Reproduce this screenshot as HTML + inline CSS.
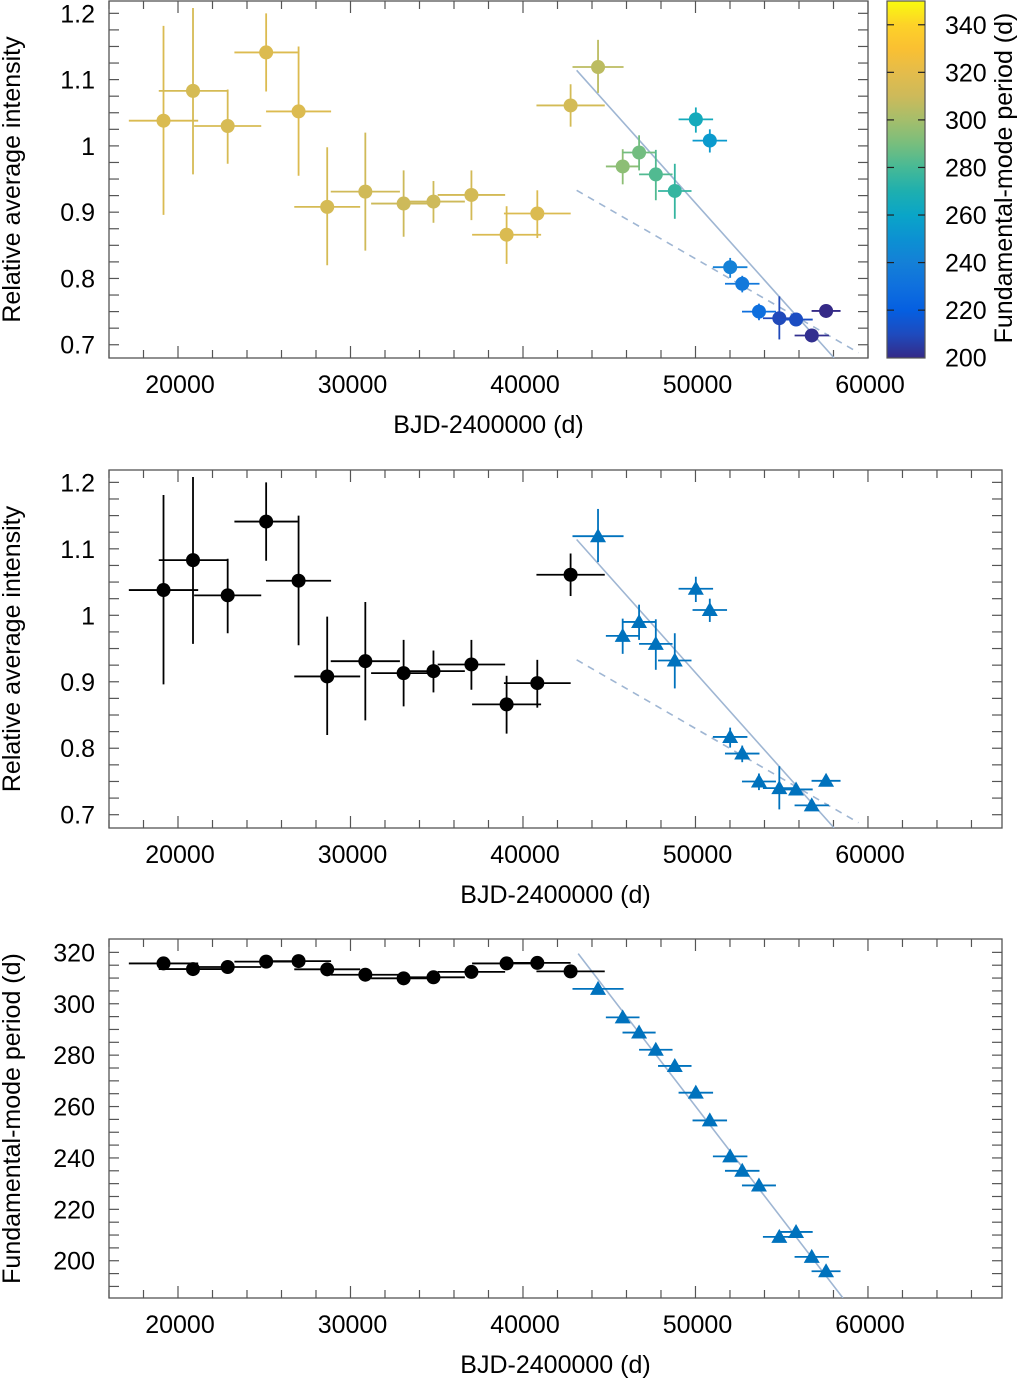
<!DOCTYPE html>
<html><head><meta charset="utf-8">
<style>
html,body{margin:0;padding:0;background:#fff;}
svg{display:block;font-family:"Liberation Sans",Arial,sans-serif;}
</style></head>
<body>
<svg id="fig" width="1020" height="1378" viewBox="0 0 1020 1378" xmlns="http://www.w3.org/2000/svg">
<defs>
<linearGradient id="parula" x1="0" y1="1" x2="0" y2="0">
<stop offset="0" stop-color="rgb(53,42,135)"/>
<stop offset="0.067" stop-color="rgb(30,75,190)"/>
<stop offset="0.133" stop-color="rgb(5,95,225)"/>
<stop offset="0.2" stop-color="rgb(15,112,222)"/>
<stop offset="0.267" stop-color="rgb(20,128,215)"/>
<stop offset="0.333" stop-color="rgb(12,145,210)"/>
<stop offset="0.4" stop-color="rgb(10,165,200)"/>
<stop offset="0.467" stop-color="rgb(30,175,175)"/>
<stop offset="0.533" stop-color="rgb(70,185,150)"/>
<stop offset="0.6" stop-color="rgb(120,190,125)"/>
<stop offset="0.667" stop-color="rgb(165,190,107)"/>
<stop offset="0.733" stop-color="rgb(205,186,90)"/>
<stop offset="0.8" stop-color="rgb(228,188,75)"/>
<stop offset="0.867" stop-color="rgb(250,192,50)"/>
<stop offset="0.933" stop-color="rgb(253,210,40)"/>
<stop offset="1" stop-color="rgb(249,251,14)"/>
</linearGradient>
</defs>
</svg>
<script>
// ---- data ----
const epochs = [19160,20870,22880,25110,26990,28650,30860,33080,34810,37010,39050,40830,42760,44350,45780,46730,47700,48800,50020,50830,52010,52710,53680,54860,55830,56740,57570];
const epochErr = [2010,1985,1945,1840,1885,1910,2005,1885,1820,1955,2000,1935,1980,1480,975,960,970,970,1000,1000,1000,1000,985,950,965,995,840];
const intensity = [1.038,1.083,1.030,1.141,1.052,0.908,0.931,0.913,0.916,0.926,0.866,0.898,1.061,1.119,0.969,0.990,0.957,0.932,1.040,1.008,0.817,0.792,0.750,0.740,0.738,0.714,0.751];
const intensityLow = [0.896,0.957,0.973,1.082,0.955,0.820,0.842,0.863,0.884,0.888,0.822,0.861,1.029,1.080,0.942,0.963,0.918,0.890,1.020,0.990,0.801,0.779,0.737,0.708,0.731,0.708,0.745];
const intensityHigh = [1.181,1.208,1.085,1.200,1.150,0.998,1.020,0.963,0.947,0.963,0.909,0.933,1.093,1.160,0.995,1.016,0.994,0.973,1.058,1.025,0.831,0.804,0.762,0.773,0.745,0.720,0.757];
const periods = [315.7,313.5,314.3,316.4,316.6,313.4,311.3,309.9,310.3,312.4,315.7,315.9,312.6,305.8,294.7,288.8,282.1,275.8,265.4,254.6,240.6,235.0,229.3,209.3,211.2,201.5,195.9];
const fitSolidI = [[43110,1.114],[58040,0.680]];
const fitDashedI = [[43110,0.933],[59450,0.688]];
const fitPeriod = [[43200,319.5],[58550,185.5]];
const xTicks = [20000,30000,40000,50000,60000];
const iTicks = [1.2,1.1,1,0.9,0.8,0.7];
const iTickLabels = ["1.2","1.1","1","0.9","0.8","0.7"];
const pTicks = [320,300,280,260,240,220,200];
const cbTicks = [340,320,300,280,260,240,220,200];
const nBlack = 13;

const NS = "http://www.w3.org/2000/svg";
const svg = document.getElementById('fig');
const FS = 25;
function mk(tag, attrs, parent){
  const e = document.createElementNS(NS, tag);
  for (const k in attrs) e.setAttribute(k, attrs[k]);
  (parent||svg).appendChild(e);
  return e;
}
const cstops = [[200,[53,42,135]],[210,[30,75,190]],[220,[5,95,225]],[230,[15,112,222]],[240,[20,128,215]],[250,[12,145,210]],[260,[10,165,200]],[270,[30,175,175]],[280,[70,185,150]],[290,[120,190,125]],[300,[165,190,107]],[310,[205,186,90]],[320,[228,188,75]],[330,[250,192,50]],[340,[253,210,40]],[350,[249,251,14]]];
function pcol(p){
  if (p<=200) return 'rgb(53,42,135)';
  for (let i=1;i<cstops.length;i++){
    if (p<=cstops[i][0]){
      const a=cstops[i-1], b=cstops[i], f=(p-a[0])/(b[0]-a[0]);
      const c=a[1].map((v,j)=>Math.round(v+(b[1][j]-v)*f));
      return 'rgb('+c.join(',')+')';
    }
  }
  return 'rgb(249,251,14)';
}

function panel(cfg){
  const g = mk('g', {});
  
  
  const X = v => cfg.x0 + (v - cfg.xmin) / (cfg.xmax - cfg.xmin) * (cfg.x1 - cfg.x0);
  const Y = v => cfg.y1 - (v - cfg.ymin) / (cfg.ymax - cfg.ymin) * (cfg.y1 - cfg.y0);
  const fr = mk('rect', {x:cfg.x0, y:cfg.y0, width:cfg.x1-cfg.x0, height:cfg.y1-cfg.y0, fill:'none', stroke:'#555', 'stroke-width':1.3}, g);
  
  
  for (let v=16000; v<=cfg.xmax; v+=2000){
    const major = v%10000===0;
    const L = major?12:8, px=X(v);
    mk('line',{x1:px,x2:px,y1:cfg.y1,y2:cfg.y1-L,stroke:'#555','stroke-width':1.2},g);
    mk('line',{x1:px,x2:px,y1:cfg.y0,y2:cfg.y0+L,stroke:'#555','stroke-width':1.2},g);
  }
  xTicks.forEach(v=>{
    const t = mk('text',{x:X(v)+2,y:cfg.y1+35,'font-size':FS,'text-anchor':'middle',fill:'#000'},g);
    t.textContent = v;
    
    
  });
  for (let v=cfg.yMinorStart; v<=cfg.ymax+1e-9; v+=cfg.yMinorStep){
    const px=Y(v);
    if (px<cfg.y0+1 || px>cfg.y1-1) continue;
    mk('line',{x1:cfg.x0,x2:cfg.x0+10,y1:px,y2:px,stroke:'#555','stroke-width':1.2},g);
    mk('line',{x1:cfg.x1,x2:cfg.x1-10,y1:px,y2:px,stroke:'#555','stroke-width':1.2},g);
  }
  cfg.yTicks.forEach((v,i)=>{
    const t = mk('text',{x:cfg.x0-14,y:Y(v)+9,'font-size':FS,'text-anchor':'end',fill:'#000'},g);
    t.textContent = cfg.yLabels[i];
    
    
  });
  const xt = mk('text',{x:(cfg.x0+cfg.x1)/2,y:cfg.y1+75,'font-size':FS,'text-anchor':'middle',fill:'#000'},g);
  xt.textContent = 'BJD-2400000 (d)';
  
  
  const yc = (cfg.y0+cfg.y1)/2;
  const yt = mk('text',{x:20,y:yc,'font-size':FS,'text-anchor':'middle',fill:'#000',transform:'rotate(-90 20 '+yc+')'},g);
  yt.textContent = cfg.yTitle;
  
  
  const cid = 'clip'+cfg.name;
  const cp = mk('clipPath',{id:cid},g);
  mk('rect',{x:cfg.x0,y:cfg.y0,width:cfg.x1-cfg.x0,height:cfg.y1-cfg.y0},cp);
  const d = mk('g',{'clip-path':'url(#'+cid+')'},g);
  cfg.fits.forEach(f=>{
    const l = mk('line',{x1:X(f.pts[0][0]),y1:Y(f.pts[0][1]),x2:X(f.pts[1][0]),y2:Y(f.pts[1][1]),stroke:'#9fb6d3','stroke-width':1.6,'stroke-dasharray':f.dash||'none'},d);
    
    
  });
  epochs.forEach((t,i)=>{
    const col = cfg.color(i);
    const yv = cfg.yv[i];
    const pg = mk('g',{},d);
    
    
    mk('line',{x1:X(t-epochErr[i]),x2:X(t+epochErr[i]),y1:Y(yv),y2:Y(yv),stroke:col,'stroke-width':1.8},pg);
    if (cfg.ylo) mk('line',{x1:X(t),x2:X(t),y1:Y(cfg.ylo[i]),y2:Y(cfg.yhi[i]),stroke:col,'stroke-width':1.8},pg);
    if (cfg.tri && i>=nBlack){
      const cx=X(t), cy=Y(yv);
      mk('polygon',{points:(cx-8)+','+(cy+6)+' '+(cx+8)+','+(cy+6)+' '+cx+','+(cy-8),fill:col},pg);
    } else {
      mk('circle',{cx:X(t),cy:Y(yv),r:7,fill:col},pg);
    }
  });
}

const blue = '#0072bd';
panel({name:'intensity-colored-panel',x0:109,x1:868,y0:1,y1:358,xmin:16000,xmax:60000,ymin:0.68,ymax:1.2186,
  yMinorStart:0.7,yMinorStep:0.025,yTicks:iTicks,yLabels:iTickLabels,yTitle:'Relative average intensity',
  fits:[{pts:fitSolidI,name:'fit-line-solid'},{pts:fitDashedI,dash:'7 6',name:'fit-line-dashed'}],
  yv:intensity,ylo:intensityLow,yhi:intensityHigh,color:i=>pcol(periods[i]),tri:false});
panel({name:'intensity-split-panel',x0:109,x1:1002,y0:470,y1:828,xmin:16000,xmax:67770,ymin:0.68,ymax:1.2186,
  yMinorStart:0.7,yMinorStep:0.025,yTicks:iTicks,yLabels:iTickLabels,yTitle:'Relative average intensity',
  fits:[{pts:fitSolidI,name:'fit-line-solid'},{pts:fitDashedI,dash:'7 6',name:'fit-line-dashed'}],
  yv:intensity,ylo:intensityLow,yhi:intensityHigh,color:i=>i<nBlack?'#000':blue,tri:true});
panel({name:'period-panel',x0:109,x1:1002,y0:939,y1:1298,xmin:16000,xmax:67770,ymin:185.5,ymax:325.2,
  yMinorStart:190,yMinorStep:5,yTicks:pTicks,yLabels:pTicks.map(String),yTitle:'Fundamental-mode period (d)',
  fits:[{pts:fitPeriod,name:'fit-line-period'}],
  yv:periods,ylo:null,yhi:null,color:i=>i<nBlack?'#000':blue,tri:true});

const cb = mk('g',{});


mk('rect',{x:887,y:1,width:38,height:357,fill:'url(#parula)',stroke:'#555','stroke-width':1.2},cb);
const CY = p => 357.7 - (p-200)/150*356.7;
cbTicks.forEach(p=>{
  const y=CY(p);
  if (p>200){
    mk('line',{x1:887,x2:894,y1:y,y2:y,stroke:'#222','stroke-width':1.2},cb);
    mk('line',{x1:918,x2:925,y1:y,y2:y,stroke:'#222','stroke-width':1.2},cb);
  }
  const t = mk('text',{x:945,y:y+9,'font-size':FS,fill:'#000'},cb);
  t.textContent = p;
  
  
});
const cbt = mk('text',{x:1012,y:178,'font-size':FS,'text-anchor':'middle',fill:'#000',transform:'rotate(-90 1012 178)'},cb);
cbt.textContent = 'Fundamental-mode period (d)';


</script>
</body></html>
